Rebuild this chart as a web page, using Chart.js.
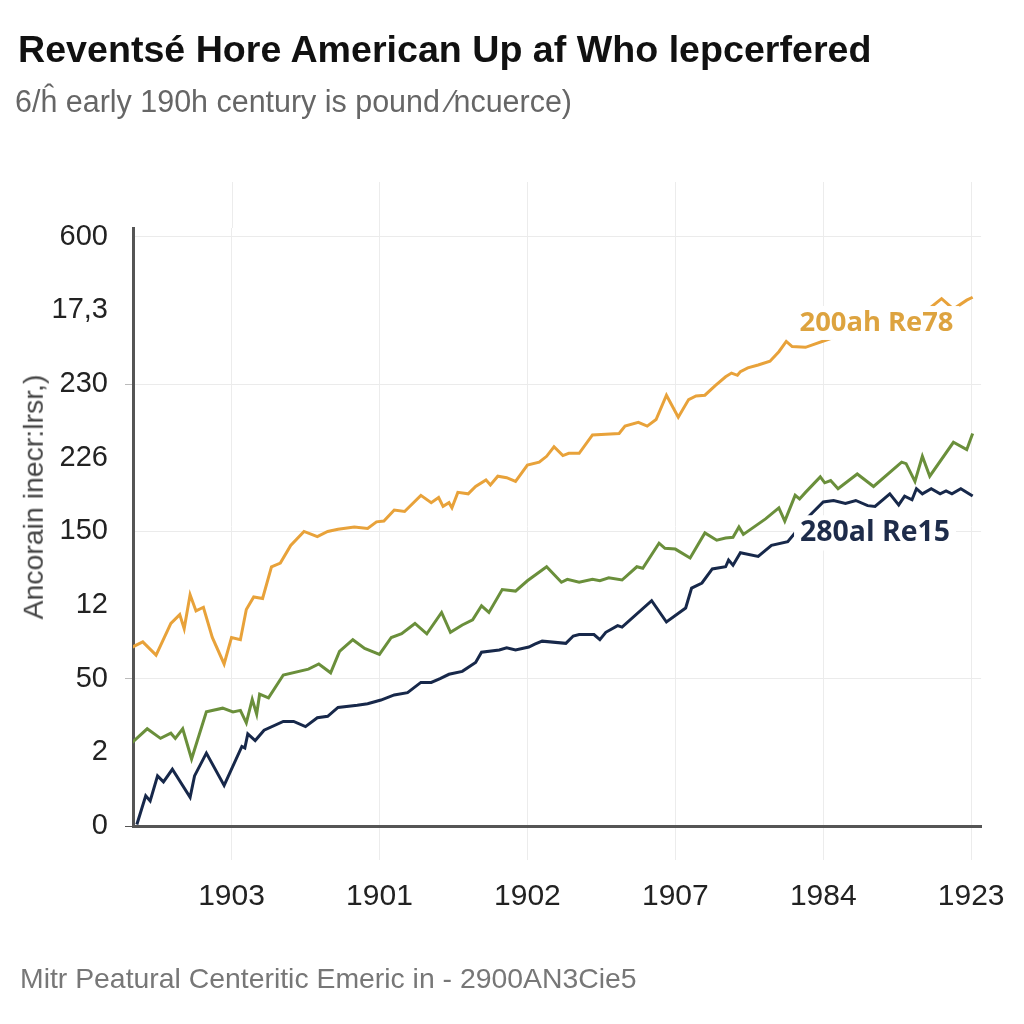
<!DOCTYPE html>
<html><head><meta charset="utf-8">
<script src="https://cdn.jsdelivr.net/npm/chart.js@4.4.1/dist/chart.umd.min.js"></script>
<style>
html,body{margin:0;padding:0;background:#fff;}
#wrap{position:relative;width:1024px;height:1024px;overflow:hidden;background:#fff;}
canvas{position:absolute;left:0;top:0;}
.txt{position:absolute;white-space:nowrap;line-height:1;font-family:"Liberation Sans",Arial,sans-serif;}
#title{left:18px;font-weight:700;color:#111;}
#subtitle{left:15px;color:#666;}
#footer{left:20px;color:#777;}
#ytitle{color:#444;transform:translate(-50%,-50%) rotate(-90deg);}
</style></head><body>
<div id="wrap">
<canvas id="c" width="1024" height="1024"></canvas>
<div id="title" class="txt">Reventsé Hore American Up af Who lepcerfered</div>
<div id="subtitle" class="txt">6/ĥ early 190h century is pound ⁄ncuerce)</div>
<div id="ytitle" class="txt">Ancorain inecr:lrsr,)</div>
<div id="footer" class="txt">Mitr Peatural Centeritic Emeric in - 2900AN3Cie5</div>
</div>
<script>
// ---- data ----
const xTickLabels = ["1903","1901","1902","1907","1984","1923"];
const yTickLabels = ["0","2","50","12","150","226","230","17,3","600"];

const orangeX = [-0.68,-0.60,-0.51,-0.41,-0.35,-0.32,-0.28,-0.24,-0.19,-0.13,-0.05,0.00,0.06,0.10,0.15,0.21,0.27,0.33,0.40,0.49,0.58,0.65,0.72,0.83,0.92,0.98,1.03,1.10,1.17,1.28,1.35,1.40,1.43,1.47,1.49,1.53,1.60,1.65,1.72,1.75,1.80,1.86,1.92,2.00,2.08,2.13,2.18,2.24,2.28,2.35,2.44,2.53,2.62,2.66,2.75,2.81,2.87,2.94,3.02,3.09,3.14,3.20,3.27,3.34,3.38,3.42,3.44,3.49,3.56,3.64,3.70,3.75,3.79,3.88,4.05,4.30,4.55,4.72,4.80,4.88,4.97,5.01];
const orangeY = [2.42,2.50,2.32,2.75,2.87,2.68,3.14,2.92,2.97,2.56,2.20,2.56,2.53,2.94,3.11,3.09,3.52,3.57,3.81,4.00,3.93,4.00,4.03,4.06,4.04,4.13,4.14,4.29,4.27,4.49,4.39,4.46,4.34,4.39,4.32,4.53,4.51,4.61,4.70,4.63,4.75,4.73,4.68,4.90,4.94,5.02,5.15,5.03,5.06,5.06,5.31,5.32,5.33,5.43,5.48,5.43,5.52,5.85,5.55,5.79,5.84,5.85,5.98,6.10,6.15,6.12,6.17,6.22,6.26,6.31,6.44,6.58,6.51,6.50,6.62,6.78,6.90,7.03,7.16,7.02,7.14,7.18];

const greenX = [-0.69,-0.57,-0.48,-0.41,-0.38,-0.33,-0.27,-0.17,-0.06,0.01,0.06,0.10,0.14,0.17,0.19,0.25,0.35,0.52,0.59,0.67,0.73,0.82,0.90,1.00,1.08,1.15,1.24,1.32,1.42,1.48,1.56,1.63,1.69,1.74,1.83,1.92,2.00,2.13,2.23,2.27,2.35,2.44,2.49,2.55,2.64,2.74,2.78,2.89,2.93,3.00,3.10,3.20,3.28,3.34,3.39,3.43,3.46,3.61,3.70,3.74,3.81,3.84,3.88,3.98,4.01,4.05,4.10,4.23,4.34,4.53,4.56,4.62,4.67,4.72,4.88,4.97,5.01];
const greenY = [1.10,1.32,1.19,1.26,1.19,1.32,0.91,1.55,1.60,1.55,1.57,1.40,1.72,1.52,1.79,1.74,2.05,2.13,2.20,2.08,2.37,2.53,2.41,2.33,2.56,2.61,2.75,2.61,2.90,2.63,2.73,2.80,2.99,2.90,3.21,3.19,3.33,3.52,3.31,3.35,3.31,3.35,3.33,3.37,3.34,3.52,3.50,3.84,3.77,3.76,3.64,3.98,3.88,3.91,3.92,4.06,3.96,4.17,4.32,4.14,4.49,4.44,4.53,4.74,4.66,4.69,4.58,4.78,4.61,4.94,4.92,4.68,5.02,4.75,5.21,5.11,5.33];

const navyX = [-0.64,-0.58,-0.55,-0.50,-0.46,-0.40,-0.28,-0.25,-0.17,-0.05,0.07,0.09,0.11,0.16,0.22,0.35,0.42,0.50,0.58,0.65,0.72,0.85,0.92,1.01,1.10,1.19,1.28,1.35,1.41,1.47,1.56,1.65,1.69,1.81,1.86,1.92,2.01,2.05,2.10,2.26,2.31,2.35,2.45,2.49,2.53,2.61,2.64,2.84,2.94,3.07,3.11,3.18,3.25,3.34,3.36,3.39,3.44,3.56,3.65,3.76,3.90,4.00,4.07,4.15,4.22,4.30,4.35,4.45,4.51,4.55,4.60,4.63,4.67,4.73,4.79,4.83,4.87,4.93,5.01];
const navyY = [0.02,0.41,0.34,0.68,0.60,0.77,0.39,0.68,0.99,0.55,1.08,1.06,1.25,1.16,1.30,1.42,1.42,1.35,1.47,1.49,1.61,1.64,1.66,1.71,1.78,1.81,1.95,1.95,2.00,2.06,2.10,2.22,2.36,2.39,2.42,2.39,2.43,2.47,2.51,2.48,2.58,2.60,2.60,2.53,2.63,2.72,2.70,3.06,2.77,2.96,3.23,3.30,3.49,3.52,3.61,3.54,3.71,3.66,3.81,3.86,4.20,4.40,4.42,4.38,4.42,4.35,4.34,4.51,4.36,4.48,4.43,4.58,4.51,4.58,4.51,4.55,4.51,4.58,4.48];

const seriesLabels = [
  {text:"200ah Re78", x:4.36, y:6.83, color:"#DDA33F", width:154},
  {text:"280al Re15", x:4.35, y:3.98, color:"#1E2C4A", width:150}
];

// ---- text fitting ----
const mctx = document.createElement('canvas').getContext('2d');
function fitSize(text, target, weight, family){
  mctx.font = weight+" 100px "+family;
  return 100*target/mctx.measureText(text).width;
}
const LIB = '"Liberation Sans", Arial, sans-serif';
function place(id, target, weight, baseline){
  const el = document.getElementById(id);
  const s = fitSize(el.textContent, target, weight, LIB);
  el.style.fontSize = s.toFixed(2)+'px';
  if (baseline !== null) el.style.top = (baseline - 0.8465*s).toFixed(1)+'px';
  return s;
}
place('title', 855, '700', 63);
place('subtitle', 557, '400', 112);
place('footer', 617, '400', 988);
const yt = document.getElementById('ytitle');
yt.style.fontSize = fitSize(yt.textContent, 245, '400', LIB).toFixed(2)+'px';
yt.style.left = '33px'; yt.style.top = '497px';

const toPts = (xs, ys) => xs.map((x,i)=>({x:x, y:ys[i]}));

const gridExtend = {
  id:'gridExtend',
  beforeDatasetsDraw(chart){
    const {ctx, chartArea, scales} = chart;
    ctx.save();
    ctx.strokeStyle = '#ececec'; ctx.lineWidth = 1;
    scales.x.ticks.forEach(t=>{
      const px = Math.round(scales.x.getPixelForValue(t.value))+0.5;
      ctx.beginPath(); ctx.moveTo(px, 182); ctx.lineTo(px, chartArea.top); ctx.stroke();
    });
    ctx.restore();
  }
};
const lineLabels = {
  id:'lineLabels',
  afterDatasetsDraw(chart){
    const {ctx, scales} = chart;
    ctx.save();
    seriesLabels.forEach(l=>{
      const fam = '"Open Sans", "Noto Sans", sans-serif';
      const s = fitSize(l.text, l.width, '700', fam);
      ctx.font = '700 '+s.toFixed(2)+'px '+fam;
      const px = scales.x.getPixelForValue(l.x), py = scales.y.getPixelForValue(l.y);
      const w = ctx.measureText(l.text).width;
      ctx.fillStyle = '#fff';
      ctx.fillRect(px - w/2 - 6, py - s*0.62, w + 12, s*1.24);
      ctx.fillStyle = l.color;
      ctx.textAlign = 'center'; ctx.textBaseline = 'middle';
      ctx.fillText(l.text, px, py);
    });
    ctx.restore();
  }
};

new Chart(document.getElementById('c'), {
  type:'line',
  data:{datasets:[
    {data:toPts(orangeX, orangeY), borderColor:'#E8A23A', borderWidth:3, pointRadius:0, tension:0, fill:false},
    {data:toPts(greenX, greenY), borderColor:'#6A8F3B', borderWidth:3, pointRadius:0, tension:0, fill:false},
    {data:toPts(navyX, navyY), borderColor:'#17284A', borderWidth:3, pointRadius:0, tension:0, fill:false}
  ]},
  options:{
    responsive:false, animation:false, devicePixelRatio:1,
    layout:{padding:{left:0, top:228, right:39, bottom:68}},
    plugins:{legend:{display:false}, tooltip:{enabled:false}, title:{display:false}},
    scales:{
      x:{type:'linear', min:-0.666, max:5.067,
        afterBuildTicks(s){ s.ticks = xTickLabels.map((_,i)=>({value:i})); },
        afterFit(s){ s.height = 130; },
        ticks:{callback:(v)=>xTickLabels[v], color:'#222', padding:19, maxRotation:0, autoSkip:false,
          font:{family:LIB, size:30}},
        grid:{color:'#ececec', lineWidth:1, tickLength:34, tickColor:'#ececec'},
        border:{color:'#555', width:3}
      },
      y:{type:'linear', min:0, max:8.12,
        afterBuildTicks(s){ s.ticks = yTickLabels.map((_,i)=>({value:i})); },
        afterFit(s){ s.width = 133; },
        ticks:{callback:(v)=>yTickLabels[v], color:'#222', padding:17, autoSkip:false,
          font:{family:LIB, size:29}},
        grid:{
          color:(c)=> (c.tick && c.tick.value%2===0 && c.tick.value>0) ? '#ebebeb' : 'rgba(0,0,0,0)',
          tickColor:(c)=> (c.tick && c.tick.value===0) ? '#555' : ((c.tick && (c.tick.value===2||c.tick.value===6)) ? '#bbb' : 'rgba(0,0,0,0)'),
          tickLength:8, lineWidth:1
        },
        border:{color:'#555', width:3}
      }
    }
  },
  plugins:[gridExtend, lineLabels]
});
</script>
</body></html>
